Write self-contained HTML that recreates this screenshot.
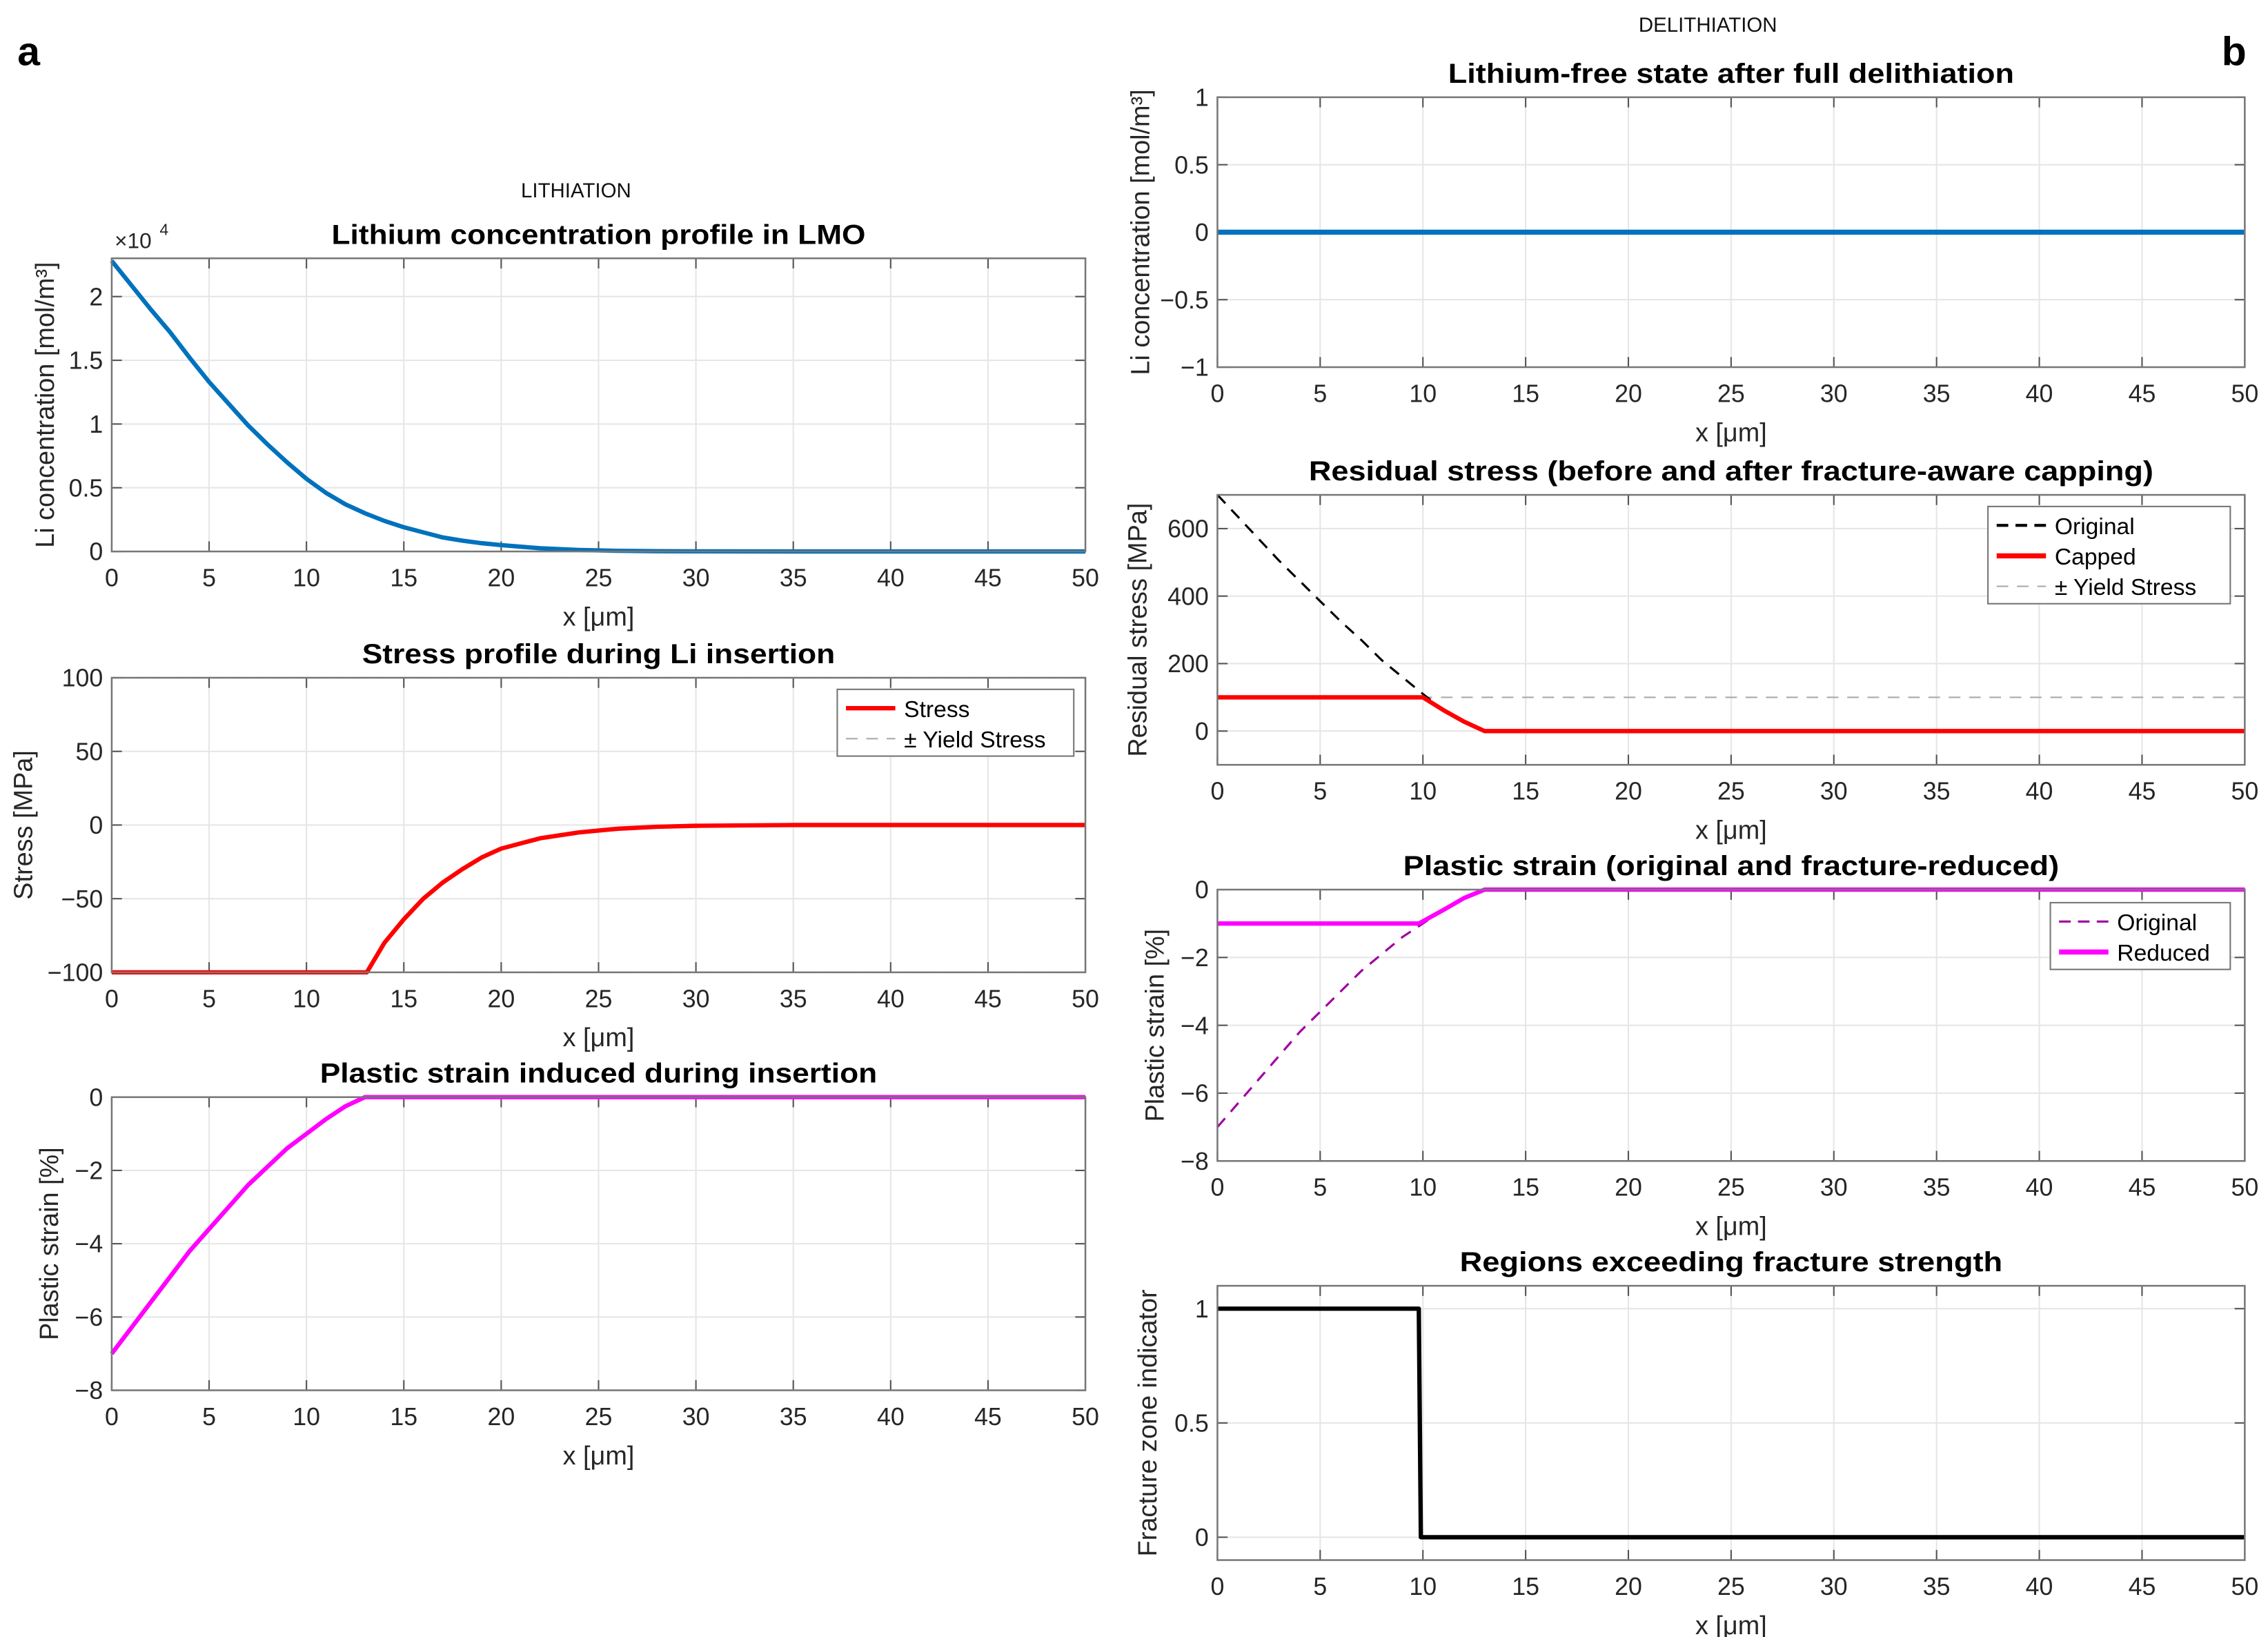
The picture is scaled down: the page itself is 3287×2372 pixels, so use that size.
<!DOCTYPE html>
<html><head><meta charset="utf-8">
<style>
html,body{margin:0;padding:0;background:#fff;}
svg{display:block;font-family:"Liberation Sans",Arial,sans-serif;}
</style></head>
<body>
<svg id="fig" width="3287" height="2372" viewBox="0 0 1563 1128" preserveAspectRatio="none" xmlns="http://www.w3.org/2000/svg">
<text x="12" y="45" font-size="28" font-weight="bold">a</text>
<text x="1531" y="45" font-size="28" font-weight="bold">b</text>
<text x="397" y="136" font-size="14" text-anchor="middle" fill="#111">LITHIATION</text>
<text x="1177" y="22" font-size="14" text-anchor="middle" fill="#111">DELITHIATION</text>
</svg>
<script>
// ---- data ----
const xTicks = [0,5,10,15,20,25,30,35,40,45,50];
const concX = [0,1,2,3,4,5,6,7,8,9,10,11,12,13,14,15,16,17,18,19,20,22,24,26,28,30,35,40,45,50];
const concY = [2.28,2.09,1.9,1.72,1.52,1.33,1.16,0.99,0.84,0.70,0.57,0.46,0.37,0.30,0.24,0.19,0.15,0.11,0.085,0.065,0.05,0.025,0.012,0.005,0.002,0.001,0,0,0,0];
const stressX = [0,13.1,14,15,16,17,18,19,20,22,24,26,28,30,35,50];
const stressY = [-100,-100,-80,-64,-50,-39,-30,-22,-16,-9,-5,-2.5,-1.2,-0.5,0,0];
const plastX = [0,1,2,3,4,5,6,7,8,9,10,11,12,13,50];
const plastY = [-7,-6.3,-5.6,-4.9,-4.2,-3.6,-3.0,-2.4,-1.9,-1.4,-1.0,-0.6,-0.25,0,0];
const delithX = [0,50];
const delithY = [0,0];
const resOrigX = [0,1,2,3,4,5,6,7,8,9,10,11,12,13,50];
const resOrigY = [700,635,570,505,445,385,325,270,210,160,110,62,28,0,0];
const resCapX = [0,10,11,12,13,50];
const resCapY = [100,100,62,28,0,0];
const redX = [0,9.8,11,12,13,50];
const redY = [-1,-1,-0.6,-0.25,0,0];
const fracX = [0,9.8,9.9,50];
const fracY = [1,1,0,0];
const yield = 100;

const NS="http://www.w3.org/2000/svg";
const fig=document.getElementById('fig');
function el(tag,attrs,parent,text){const e=document.createElementNS(NS,tag);for(const k in attrs)e.setAttribute(k,attrs[k]);if(text!==undefined)e.textContent=text;(parent||fig).appendChild(e);return e;}

function axes(o){
  const g=el('g',{});
  
  
  const sx=v=>o.x0+(v-0)/(50-0)*(o.x1-o.x0);
  const sy=v=>o.y1-(v-o.ymin)/(o.ymax-o.ymin)*(o.y1-o.y0);
  el('rect',{x:o.x0,y:o.y0,width:o.x1-o.x0,height:o.y1-o.y0,fill:'#fff'},g);
  xTicks.forEach(t=>{
    el('line',{x1:sx(t),x2:sx(t),y1:o.y0,y2:o.y1,stroke:'#e6e6e6','stroke-width':1},g);
    el('line',{x1:sx(t),x2:sx(t),y1:o.y1,y2:o.y1-7,stroke:'#555','stroke-width':1},g);
    el('line',{x1:sx(t),x2:sx(t),y1:o.y0,y2:o.y0+7,stroke:'#555','stroke-width':1},g);
    const tl=el('text',{x:sx(t),y:o.y1+24,'font-size':17,'text-anchor':'middle',fill:'#262626'},g,String(t));
    
    
  });
  o.yTicks.forEach((t,i)=>{
    el('line',{x1:o.x0,x2:o.x1,y1:sy(t),y2:sy(t),stroke:'#e6e6e6','stroke-width':1},g);
    el('line',{x1:o.x0,x2:o.x0+7,y1:sy(t),y2:sy(t),stroke:'#555','stroke-width':1},g);
    el('line',{x1:o.x1,x2:o.x1-7,y1:sy(t),y2:sy(t),stroke:'#555','stroke-width':1},g);
    const tl=el('text',{x:o.x0-6,y:sy(t)+6,'font-size':17,'text-anchor':'end',fill:'#262626'},g,o.yLabels[i]);
    
    
  });
  o.series.forEach(s=>{
    const d=s.xs.map((x,i)=>(i?'L':'M')+sx(x).toFixed(2)+','+sy(s.ys[i]).toFixed(2)).join(' ');
    const p=el('path',{d:d,fill:'none',stroke:s.color,'stroke-width':s.w,'stroke-dasharray':s.dash||'none','stroke-linejoin':'round'},g);
    
    
  });
  el('rect',{x:o.x0,y:o.y0,width:o.x1-o.x0,height:o.y1-o.y0,fill:'none',stroke:'#777','stroke-width':1.2},g);
  const t=el('text',{x:(o.x0+o.x1)/2,y:o.y0-10,'font-size':19,'font-weight':'bold','text-anchor':'middle',textLength:o.titleLen,lengthAdjust:'spacingAndGlyphs',fill:'#000'},g,o.title);
  
  
  const xl=el('text',{x:(o.x0+o.x1)/2,y:o.y1+51,'font-size':18,'text-anchor':'middle',fill:'#262626'},g,'x [\u03BCm]');
  
  
  const cy=(o.y0+o.y1)/2;
  const yl=el('text',{x:o.ylx,y:cy,'font-size':18,'text-anchor':'middle',fill:'#262626',transform:'rotate(-90 '+o.ylx+' '+cy+')'},g,o.ylabel);
  
  
  if(o.legend){
    const L=o.legend;
    el('rect',{x:L.x,y:L.y,width:L.w,height:L.items.length*21+4,fill:'#fff',stroke:'#777','stroke-width':1},g);
    L.items.forEach((it,i)=>{
      const yy=L.y+13+i*21;
      const ln=el('line',{x1:L.x+6,x2:L.x+40,y1:yy,y2:yy,stroke:it.color,'stroke-width':it.w,'stroke-dasharray':it.dash||'none'},g);
      
      
      const lt=el('text',{x:L.x+46,y:yy+6,'font-size':16,fill:'#000'},g,it.label);
      
      
    });
  }
  return {g,sx,sy};
}

const A1=axes({name:'concentration-chart',x0:77,x1:748,y0:178,y1:380,ymin:0,ymax:2.3,yTicks:[0,0.5,1,1.5,2],yLabels:['0','0.5','1','1.5','2'],
  title:'Lithium concentration profile in LMO',titleLen:368,ylabel:'Li concentration [mol/m\u00B3]',ylx:37,
  series:[{name:'concentration-line',xs:concX,ys:concY,color:'#0072BD',w:3}]});
const ex=el('text',{x:79,y:171,'font-size':15,fill:'#262626'},A1.g,'\u00D710');


el('text',{x:110,y:162,'font-size':11,fill:'#262626'},A1.g,'4');

axes({name:'stress-chart',x0:77,x1:748,y0:467,y1:670,ymin:-100,ymax:100,yTicks:[-100,-50,0,50,100],yLabels:['\u2212100','\u221250','0','50','100'],
  title:'Stress profile during Li insertion',titleLen:326,ylabel:'Stress [MPa]',ylx:22,
  series:[{name:'yield-upper',xs:[0,50],ys:[yield,yield],color:'#aaa',w:1,dash:'8 6'},{name:'yield-lower',xs:[0,50],ys:[-yield,-yield],color:'#aaa',w:1,dash:'8 6'},
          {name:'stress-line',xs:stressX,ys:stressY,color:'#ff0000',w:3}],
  legend:{x:577,y:475,w:163,items:[{label:'Stress',color:'#ff0000',w:3},{label:'\u00B1 Yield Stress',color:'#aaa',w:1,dash:'8 6'}]}});

axes({name:'plastic-strain-chart',x0:77,x1:748,y0:756,y1:958,ymin:-8,ymax:0,yTicks:[-8,-6,-4,-2,0],yLabels:['\u22128','\u22126','\u22124','\u22122','0'],
  title:'Plastic strain induced during insertion',titleLen:384,ylabel:'Plastic strain [%]',ylx:40,
  series:[{name:'plastic-strain-line',xs:plastX,ys:plastY,color:'#ff00ff',w:3}]});

axes({name:'delithiated-concentration-chart',x0:839,x1:1547,y0:67,y1:253,ymin:-1,ymax:1,yTicks:[-1,-0.5,0,0.5,1],yLabels:['\u22121','\u22120.5','0','0.5','1'],
  title:'Lithium-free state after full delithiation',titleLen:390,ylabel:'Li concentration [mol/m\u00B3]',ylx:792,
  series:[{name:'delithiated-line',xs:delithX,ys:delithY,color:'#0072BD',w:3.5}]});

axes({name:'residual-stress-chart',x0:839,x1:1547,y0:341,y1:527,ymin:-100,ymax:700,yTicks:[0,200,400,600],yLabels:['0','200','400','600'],
  title:'Residual stress (before and after fracture-aware capping)',titleLen:582,ylabel:'Residual stress [MPa]',ylx:790,
  series:[{name:'yield-upper',xs:[0,50],ys:[yield,yield],color:'#aaa',w:1,dash:'8 6'},{name:'yield-lower',xs:[0,50],ys:[-yield,-yield],color:'#aaa',w:1,dash:'8 6'},
          {name:'original-stress-line',xs:resOrigX,ys:resOrigY,color:'#000',w:1.5,dash:'8 6'},
          {name:'capped-stress-line',xs:resCapX,ys:resCapY,color:'#ff0000',w:3}],
  legend:{x:1370,y:349,w:167,items:[{label:'Original',color:'#000',w:2,dash:'8 5'},{label:'Capped',color:'#ff0000',w:3.5},{label:'\u00B1 Yield Stress',color:'#aaa',w:1,dash:'8 6'}]}});

axes({name:'plastic-strain-reduced-chart',x0:839,x1:1547,y0:613,y1:800,ymin:-8,ymax:0,yTicks:[-8,-6,-4,-2,0],yLabels:['\u22128','\u22126','\u22124','\u22122','0'],
  title:'Plastic strain (original and fracture-reduced)',titleLen:452,ylabel:'Plastic strain [%]',ylx:802,
  series:[{name:'original-strain-line',xs:plastX,ys:plastY,color:'#a000a0',w:1.5,dash:'8 6'},
          {name:'reduced-strain-line',xs:redX,ys:redY,color:'#ff00ff',w:3}],
  legend:{x:1413,y:622,w:124,items:[{label:'Original',color:'#a000a0',w:1.5,dash:'8 5'},{label:'Reduced',color:'#ff00ff',w:3.5}]}});

axes({name:'fracture-zone-chart',x0:839,x1:1547,y0:886,y1:1075,ymin:-0.1,ymax:1.1,yTicks:[0,0.5,1],yLabels:['0','0.5','1'],
  title:'Regions exceeding fracture strength',titleLen:374,ylabel:'Fracture zone indicator',ylx:797,
  series:[{name:'fracture-indicator-line',xs:fracX,ys:fracY,color:'#000',w:3}]});
</script>
</body></html>
